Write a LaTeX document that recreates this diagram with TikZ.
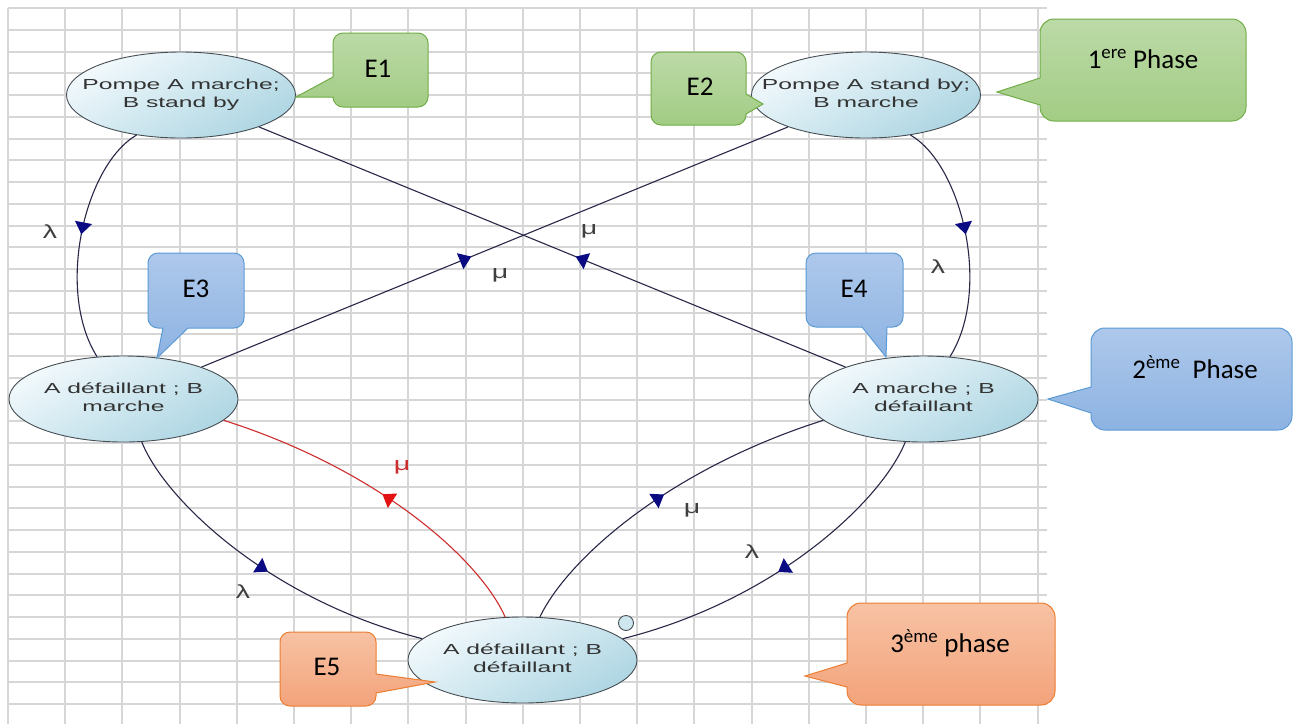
\documentclass[tikz,border=0pt]{standalone}
\usepackage{fontspec}
\setmainfont{Carlito}
\newfontfamily\statefont[FakeStretch=1.7]{Liberation Sans}
\newfontfamily\ratefont[FakeStretch=1.5]{Liberation Sans}
\usetikzlibrary{shapes.geometric,arrows.meta,decorations.markings}

\definecolor{gridgray}{RGB}{214,214,214}
\definecolor{edgeink}{RGB}{40,40,72}
\definecolor{tipnavy}{RGB}{10,10,130}
\definecolor{repairred}{RGB}{205,45,45}
\definecolor{tipred}{RGB}{228,20,20}
\definecolor{stateedge}{RGB}{70,78,84}
\definecolor{statelight}{RGB}{242,249,252}
\definecolor{statedark}{RGB}{174,214,227}
\definecolor{grnA}{RGB}{188,218,167}
\definecolor{grnB}{RGB}{162,204,132}
\definecolor{grnLine}{RGB}{112,173,71}
\definecolor{bluA}{RGB}{174,200,235}
\definecolor{bluB}{RGB}{141,179,226}
\definecolor{bluLine}{RGB}{91,155,213}
\definecolor{orgA}{RGB}{247,194,164}
\definecolor{orgB}{RGB}{243,163,123}
\definecolor{orgLine}{RGB}{237,125,49}

% two centred lines of state text that do not widen the ellipse
\newcommand\twolines[2]{\makebox[0pt]{\begin{tabular}{@{}c@{}}#1\\#2\end{tabular}}}

\tikzset{
  gridline/.style={draw=gridgray, line width=2pt},
  state/.style={ellipse, draw=stateedge, line width=0.9pt,
    minimum width=229pt, minimum height=86pt, inner sep=0pt,
    top color=statelight, bottom color=statedark, shading angle=30,
    font=\statefont\fontsize{14.5}{18}\selectfont, text=black!80},
  flow/.style={draw=edgeink, line width=1.1pt},
  flowred/.style={draw=repairred, line width=1.1pt},
  tipmark/.style={postaction={decorate, decoration={markings,
    mark=at position #1 with {\arrow[tipnavy]{Triangle[width=17pt,length=12pt]}}}}},
  tipmarkred/.style={postaction={decorate, decoration={markings,
    mark=at position #1 with {\arrow[tipred]{Triangle[width=17pt,length=12pt]}}}}},
  rate/.style={font=\ratefont\fontsize{19}{19}\selectfont, text=black!75, inner sep=0pt},
  grnbox/.style={top color=grnA, bottom color=grnB, draw=grnLine, line width=1pt},
  blubox/.style={top color=bluA, bottom color=bluB, draw=bluLine, line width=1pt},
  orgbox/.style={top color=orgA, bottom color=orgB, draw=orgLine, line width=1pt},
  tag/.style={font=\fontsize{27}{32}\selectfont, anchor=base, inner sep=0pt, text=black},
}

\begin{document}
\begin{tikzpicture}[x=1pt,y=-1pt]
\useasboundingbox (0,0) rectangle (1293,724);
\fill[white] (0,0) rectangle (1293,724);

% spreadsheet grid
\foreach \i in {0,...,18}
  \draw[gridline] ({round(8+57.2*\i)},8) -- ({round(8+57.2*\i)},724);
\foreach \j in {0,...,32}
  \draw[gridline] (8,{round(8+21.75*\j)}) -- (1047,{round(8+21.75*\j)});

% states
\node[state] (e1) at (181,95)    {\twolines{Pompe A marche;}{B stand by}};
\node[state] (e2) at (866,95)    {\twolines{Pompe A stand by;}{B marche}};
\node[state] (e3) at (123.5,399) {\twolines{A défaillant ; B}{marche}};
\node[state] (e4) at (923.5,399) {\twolines{A marche ; B}{défaillant}};
\node[state] (e5) at (522.5,660) {\twolines{A défaillant ; B}{défaillant}};

% transitions
\draw[flow, tipmark=0.48] (e1.222) .. controls (85,165) and (55,290) .. (e3.122);
\draw[flow, tipmark=0.48] (e2.318) .. controls (962,165) and (992,290) .. (e4.58);
\draw[flow, tipmark=0.46] (e4) -- (e1);
\draw[flow, tipmark=0.46] (e3) -- (e2);
\draw[flow, tipmark=0.52] (e3.293) .. controls (165,500) and (270,600) .. (e5.168);
\draw[flowred, tipmarkred=0.5] (e5.112) .. controls (480,560) and (380,470) .. (e3.348);
\draw[flow, tipmark=0.5] (e5.68) .. controls (567,560) and (667,470) .. (e4.192);
\draw[flow, tipmark=0.52] (e4.247) .. controls (882,500) and (777,600) .. (e5.12);

% rates
\node[rate] (r13) at (50,232)  {λ};
\node[rate] (r24) at (938,267) {λ};
\node[rate] (r41) at (589,231) {μ};
\node[rate] (r32) at (500,275) {μ};
\node[rate, text=repairred] (r53) at (402,467) {μ};
\node[rate] (r54) at (692,510) {μ};
\node[rate] (r35) at (243,592) {λ};
\node[rate] (r45) at (752,552) {λ};

% small ring beside E5
\draw[draw=stateedge, line width=0.9pt, fill=statedark!60!white] (626,623) circle (7.5);

% callouts: rounded boxes with a sharp pointer
\path[grnbox] (380,33) [rounded corners=10pt] -- (428,33) -- (428,107) -- (333,107)
  [sharp corners] -- (333,97) -- (296,97) -- (333,77) [rounded corners=10pt] -- (333,33) -- cycle;
\path[grnbox] (698,52) [rounded corners=10pt] -- (746,52) [sharp corners] -- (746,94)
  -- (763,104) -- (746,114) [rounded corners=10pt] -- (746,125) -- (651,125) -- (651,52) -- cycle;
\path[grnbox] (1143,19) [rounded corners=14pt] -- (1246,19) -- (1246,121) -- (1040,121)
  [sharp corners] -- (1040,105) -- (997,92) -- (1040,78) [rounded corners=14pt] -- (1040,19) -- cycle;
\path[blubox] (196,253) [rounded corners=10pt] -- (244,253) -- (244,328) [sharp corners] -- (188,328)
  -- (157,358) -- (163,328) [rounded corners=10pt] -- (148,328) -- (148,253) -- cycle;
\path[blubox] (854,253) [rounded corners=10pt] -- (903,253) -- (903,327) [sharp corners] -- (887,327)
  -- (886,357) -- (862,327) [rounded corners=10pt] -- (806,327) -- (806,253) -- cycle;
\path[blubox] (1191,328) [rounded corners=14pt] -- (1292,328) -- (1292,430) -- (1091,430)
  [sharp corners] -- (1091,413) -- (1048,399) -- (1091,387) [rounded corners=14pt] -- (1091,328) -- cycle;
\path[orgbox] (328,632) [rounded corners=10pt] -- (376,632) [sharp corners] -- (376,674)
  -- (435,682) -- (376,693) [rounded corners=10pt] -- (376,706) -- (280,706) -- (280,632) -- cycle;
\path[orgbox] (951,603) [rounded corners=14pt] -- (1055,603) -- (1055,705) -- (847,705)
  [sharp corners] -- (847,687) -- (805,676) -- (847,663) [rounded corners=14pt] -- (847,603) -- cycle;

% callout texts
\node[tag] (t1) at (378,77)   {E1};
\node[tag] (t2) at (700,95)   {E2};
\node[tag] (tp1) at (1143,68) {1\textsuperscript{ere} Phase};
\node[tag] (t3) at (196,297)  {E3};
\node[tag] (t4) at (854,297)  {E4};
\node[tag] (tp2) at (1195,378) {2\textsuperscript{ème}\ \ Phase};
\node[tag] (t5) at (327,675)  {E5};
\node[tag] (tp3) at (950,652) {3\textsuperscript{ème} phase};
\end{tikzpicture}
\end{document}
